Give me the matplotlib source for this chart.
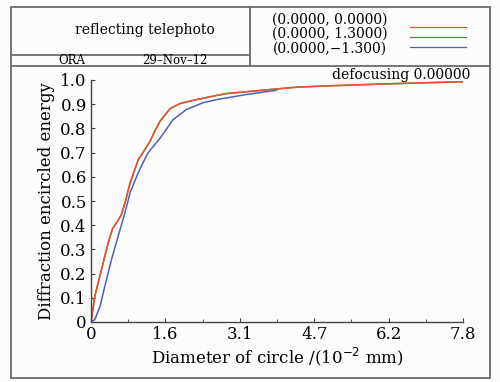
import matplotlib
matplotlib.use('Agg')
import matplotlib.pyplot as plt
from matplotlib.lines import Line2D
from matplotlib.patches import Rectangle

# encircled energy curves (x in 1e-2 mm)
red_x = [0, 0.08, 0.22, 0.36, 0.45, 0.54, 0.63, 0.71, 0.82, 0.99, 1.13, 1.24, 1.34, 1.45,
         1.66, 1.87, 2.21, 2.63, 2.84, 3.61, 4.17, 4.38, 5.0, 6.2, 7.8]
red_y = [0, 0.107, 0.217, 0.327, 0.385, 0.412, 0.44, 0.49, 0.575, 0.67, 0.713, 0.747, 0.79, 0.83,
         0.882, 0.903, 0.919, 0.936, 0.944, 0.958, 0.968, 0.971, 0.976, 0.984, 0.993]
blue_x = [0, 0.08, 0.19, 0.29, 0.43, 0.57, 0.71, 0.82, 0.99, 1.17, 1.24, 1.45, 1.72,
          2.0, 2.35, 2.63, 3.26, 3.89]
blue_y = [0, 0.01, 0.065, 0.148, 0.258, 0.355, 0.45, 0.534, 0.617, 0.69, 0.71, 0.76, 0.836,
          0.878, 0.906, 0.919, 0.940, 0.958]

fields = ['(0.0000, 0.0000)', '(0.0000, 1.3000)', '(0.0000,\u22121.300)']
colors = ['#f0502e', '#4f8a4f', '#4d62b4']
xticks = [0, 1.56, 3.12, 4.68, 6.24, 7.8]
xticklabels = ['0', '1.6', '3.1', '4.7', '6.2', '7.8']
yticks = [0, 0.1, 0.2, 0.3, 0.4, 0.5, 0.6, 0.7, 0.8, 0.9, 1.0]
yticklabels = ['0', '0.1', '0.2', '0.3', '0.4', '0.5', '0.6', '0.7', '0.8', '0.9', '1.0']

plt.rcParams['font.family'] = ['DejaVu Serif']

W, H = 500, 382
fig = plt.figure(figsize=(5, 3.82), dpi=100, facecolor='#fcfcfc')

def fx(px):
    return px / W

def fy(py):
    return 1 - py / H

frame = '#6e6a66'
# outer frame and header boxes
fig.add_artist(Rectangle((fx(11), fy(378)), fx(490) - fx(11), fy(7) - fy(378),
                         fill=False, ec=frame, lw=1.3, transform=fig.transFigure))
fig.add_artist(Line2D([fx(11), fx(490)], [fy(66), fy(66)], color=frame, lw=1.3))
fig.add_artist(Line2D([fx(11), fx(250)], [fy(55), fy(55)], color=frame, lw=1.3))
fig.add_artist(Line2D([fx(250), fx(250)], [fy(7), fy(66)], color=frame, lw=1.3))

fig.text(fx(145), fy(30), 'reflecting telephoto', ha='center', va='center', fontsize=10)
fig.text(fx(72), fy(61), 'ORA', ha='center', va='center', fontsize=8.5)
fig.text(fx(175), fy(61), '29\u2013Nov\u201312', ha='center', va='center', fontsize=8.5)

for i, (f, c) in enumerate(zip(fields, colors)):
    ty = [20, 34, 49][i]
    ly = [27, 37, 47][i]
    fig.text(fx(330), fy(ty), f, ha='center', va='center', fontsize=10)
    fig.add_artist(Line2D([fx(410), fx(466)], [fy(ly), fy(ly)], color=c, lw=0.9))

ax = fig.add_axes([fx(91), fy(322), fx(463) - fx(91), fy(80) - fy(322)])
ax.set_facecolor('#fcfcfc')
ax.plot(red_x, red_y, color=colors[1], lw=1.1)
ax.plot(blue_x, blue_y, color=colors[2], lw=1.1)
ax.plot(red_x, red_y, color=colors[0], lw=1.1)

ax.set_xlim(0, 7.8)
ax.set_ylim(0, 1.0)
ax.set_xticks(xticks)
ax.set_xticklabels(xticklabels)
ax.set_xticks([0.78, 2.34, 3.9, 5.46, 7.02], minor=True)
ax.set_yticks(yticks)
ax.set_yticklabels(yticklabels)
ax.tick_params(which='both', direction='in', labelsize=12, color='#444444', length=3, pad=3)
ax.tick_params(which='minor', length=2)
for s in ['top', 'right']:
    ax.spines[s].set_visible(False)
for s in ['left', 'bottom']:
    ax.spines[s].set_color('#444444')
    ax.spines[s].set_linewidth(1.0)

ax.set_xlabel('Diameter of circle /(10$^{-2}$ mm)', fontsize=12, labelpad=2)
ax.set_ylabel('Diffraction encircled energy', fontsize=12, labelpad=4)
fig.text(fx(470), fy(75), 'defocusing 0.00000', ha='right', va='center', fontsize=10)

fig.savefig('out.png', dpi=100, facecolor=fig.get_facecolor())
